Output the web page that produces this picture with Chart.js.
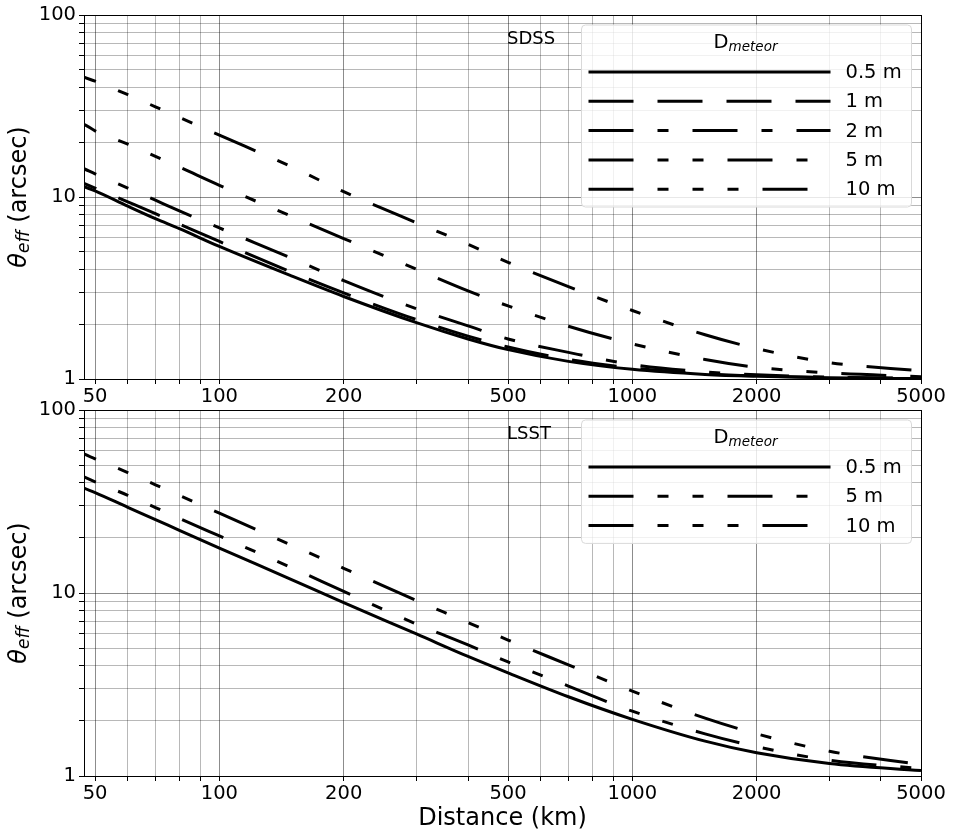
<!DOCTYPE html>
<html>
<head>
<meta charset="utf-8">
<script src="https://cdn.jsdelivr.net/npm/chart.js@4.4.1/dist/chart.umd.min.js"></script>
<style>
  html, body { margin: 0; padding: 0; background: #fff; }
  #wrap { position: relative; width: 953px; height: 836px; }
  canvas { position: absolute; left: 0; }
</style>
</head>
<body>
<div id="wrap">
  <canvas id="sdss" width="953" height="405" style="top:0"></canvas>
  <canvas id="lsst" width="953" height="451" style="top:385px"></canvas>
</div>
<script>
// distances in km (first point sits just left of the axis and gets clipped)
const distance = [40, 47, 50, 60, 70, 80, 100, 150, 200, 300, 400, 500, 700, 1000, 1500, 2000, 3000, 5000];

// SDSS, theta_eff in arcsec
const sdss05 = [13.3, 11.4, 10.8, 8.9, 7.6, 6.7, 5.35, 3.67, 2.84, 2.04, 1.66, 1.45, 1.25, 1.13, 1.06, 1.035, 1.015, 1.005];
const sdss1  = [14.0, 11.9, 11.2, 9.4, 8.1, 7.1, 5.7, 3.85, 2.97, 2.12, 1.72, 1.50, 1.28, 1.15, 1.07, 1.04, 1.017, 1.006];
const sdss2  = [16.8, 14.3, 13.4, 11.2, 9.6, 8.4, 6.76, 4.6, 3.47, 2.43, 1.96, 1.66, 1.40, 1.20, 1.095, 1.055, 1.025, 1.01];
const sdss5  = [28.9, 25.1, 23.1, 19.5, 16.7, 14.6, 11.6, 7.8, 5.91, 4.01, 3.05, 2.52, 1.95, 1.56, 1.28, 1.16, 1.08, 1.03];
const sdss10 = [54.7, 45.5, 43.3, 36.5, 31.3, 27.4, 21.9, 14.6, 10.7, 7.22, 5.5, 4.38, 3.22, 2.38, 1.75, 1.47, 1.23, 1.11];

// LSST
const lsst05 = [44.0, 37.4, 35.4, 29.4, 25.2, 22.0, 17.6, 11.8, 8.85, 5.97, 4.5, 3.66, 2.71, 2.04, 1.55, 1.34, 1.17, 1.07];
const lsst5  = [51.2, 43.1, 40.5, 34.2, 29.3, 25.6, 20.5, 13.7, 10.2, 6.77, 5.2, 4.20, 3.10, 2.26, 1.70, 1.445, 1.22, 1.098];
const lsst10 = [68.2, 57.6, 54.1, 45.5, 39.0, 34.1, 27.3, 18.2, 13.65, 9.1, 6.9, 5.53, 4.05, 2.91, 2.07, 1.70, 1.365, 1.154];

const xLabels = [50, 100, 200, 500, 1000, 2000, 5000];
const yLabels = [1, 10, 100];

// grid positions: 1..9 times each decade
function decadeTicks(lo, hi) {
  const out = [];
  for (let p = 1; p <= 1e4; p *= 10)
    for (let m = 1; m < 10; m++) {
      const v = m * p;
      if (v >= lo && v <= hi) out.push(v);
    }
  return out;
}
const xGrid = decadeTicks(50, 5000);
const yGrid = decadeTicks(1, 100);

const dash = {
  '0.5 m': [],
  '1 m': [45, 24],
  '2 m': [45, 24, 11, 24],
  '5 m': [45, 24, 11, 24, 11, 24],
  '10 m': [45, 24, 11, 24, 11, 24, 11, 24]
};

Chart.defaults.font.family = '"DejaVu Sans"';
Chart.defaults.color = '#000';

function series(label, vals) {
  return {
    label: label,
    data: distance.map((d, i) => ({ x: d, y: vals[i] })),
    borderColor: '#000',
    borderWidth: 3,
    borderDash: dash[label],
    borderCapStyle: 'butt',
    pointRadius: 0,
    fill: false,
    cubicInterpolationMode: 'monotone'
  };
}

function gridColor(labels) {
  return ctx => labels.includes(ctx.tick.value) ? 'rgba(0,0,0,0.45)' : 'rgba(0,0,0,0.28)';
}

const extras = {
  id: 'extras',
  afterDatasetsDraw(chart, args, opts) {
    const ctx = chart.ctx, a = chart.chartArea;
    ctx.save();
    // frame
    ctx.strokeStyle = '#000';
    ctx.lineWidth = 1;
    ctx.strokeRect(a.left + 0.5, a.top + 0.5, a.right - a.left, a.bottom - a.top);

    // survey tag
    ctx.fillStyle = '#000';
    ctx.textAlign = 'left';
    ctx.textBaseline = 'alphabetic';
    ctx.font = '18px "DejaVu Sans"';
    ctx.fillText(opts.tag, 507, a.top + 29);

    // legend
    const sets = chart.data.datasets;
    const bx = a.right - 339.5, bw = 330, by = a.top + 10, bh = 35.5 + 29.3 * sets.length;
    ctx.beginPath();
    ctx.roundRect(bx, by, bw, bh, 4);
    ctx.fillStyle = 'rgba(255,255,255,0.8)';
    ctx.fill();
    ctx.strokeStyle = '#d9d9d9';
    ctx.lineWidth = 1;
    ctx.stroke();

    ctx.fillStyle = '#000';
    ctx.font = '19.5px "DejaVu Sans"';
    const wD = ctx.measureText('D').width;
    ctx.font = 'italic 13.5px "DejaVu Sans"';
    const wM = ctx.measureText('meteor').width;
    const tx = a.right - 175.5 - (wD + wM) / 2, ty = by + 23;
    ctx.font = '19.5px "DejaVu Sans"';
    ctx.fillText('D', tx, ty);
    ctx.font = 'italic 13.5px "DejaVu Sans"';
    ctx.fillText('meteor', tx + wD, ty + 3);

    sets.forEach((s, i) => {
      const y = by + 47 + 29.3 * i;
      ctx.beginPath();
      ctx.setLineDash(s.borderDash);
      ctx.lineWidth = 3;
      ctx.strokeStyle = '#000';
      ctx.moveTo(a.right - 332.5, y);
      ctx.lineTo(a.right - 90.5, y);
      ctx.stroke();
      ctx.setLineDash([]);
      ctx.font = '19.5px "DejaVu Sans"';
      ctx.textBaseline = 'middle';
      ctx.fillText(s.label, a.right - 75.5, y + 1);
      ctx.textBaseline = 'alphabetic';
    });

    // y title: theta_eff (arcsec)
    ctx.save();
    ctx.translate(20, (a.top + a.bottom) / 2);
    ctx.rotate(-Math.PI / 2);
    ctx.textBaseline = 'middle';
    ctx.font = 'italic 24px "DejaVu Sans"';
    const w1 = ctx.measureText('\u03b8').width;
    ctx.font = 'italic 17px "DejaVu Sans"';
    const w2 = ctx.measureText('eff').width;
    ctx.font = '24px "DejaVu Sans"';
    const w3 = ctx.measureText(' (arcsec)').width;
    let x0 = -(w1 + w2 + w3) / 2;
    ctx.font = 'italic 24px "DejaVu Sans"';
    ctx.fillText('\u03b8', x0, 0);
    ctx.font = 'italic 17px "DejaVu Sans"';
    ctx.fillText('eff', x0 + w1, 5);
    ctx.font = '24px "DejaVu Sans"';
    ctx.fillText(' (arcsec)', x0 + w1 + w2, 0);
    ctx.restore();

    if (opts.xTitle) {
      ctx.font = '24px "DejaVu Sans"';
      ctx.textAlign = 'center';
      ctx.fillText('Distance (km)', (a.left + a.right) / 2, chart.height - 11);
    }
    ctx.restore();
  }
};

function makeChart(id, sets, tag, padTop, xHeight, xTitle) {
  return new Chart(document.getElementById(id), {
    type: 'line',
    data: { datasets: sets },
    options: {
      responsive: false,
      animation: false,
      devicePixelRatio: 1,
      layout: { padding: { top: padTop, right: 32, left: 0, bottom: 0 } },
      plugins: {
        legend: { display: false },
        tooltip: { enabled: false },
        extras: { tag: tag, xTitle: xTitle }
      },
      scales: {
        x: {
          type: 'logarithmic',
          min: 47,
          max: 5000,
          afterBuildTicks: s => { s.ticks = xGrid.map(v => ({ value: v })); },
          afterFit: s => { s.height = xHeight; },
          ticks: {
            autoSkip: false,
            maxRotation: 0,
            padding: 1,
            font: { size: 19.5 },
            callback: v => xLabels.includes(v) ? String(v) : ''
          },
          grid: { color: gridColor(xLabels), tickColor: '#000', tickLength: 5, lineWidth: 1 },
          border: { color: '#000' }
        },
        y: {
          type: 'logarithmic',
          min: 1,
          max: 100,
          afterBuildTicks: s => { s.ticks = yGrid.map(v => ({ value: v })); },
          afterFit: s => { s.width = 84; },
          ticks: {
            autoSkip: false,
            padding: 3,
            font: { size: 19.5 },
            callback: v => yLabels.includes(v) ? String(v) : ''
          },
          grid: { color: gridColor(yLabels), tickColor: '#000', tickLength: 5, lineWidth: 1 },
          border: { color: '#000' }
        }
      }
    },
    plugins: [extras]
  });
}

makeChart('sdss', [
  series('0.5 m', sdss05),
  series('1 m', sdss1),
  series('2 m', sdss2),
  series('5 m', sdss5),
  series('10 m', sdss10)
], 'SDSS', 15, 26, false);

makeChart('lsst', [
  series('0.5 m', lsst05),
  series('5 m', lsst5),
  series('10 m', lsst10)
], 'LSST', 25, 60, true);
</script>
</body>
</html>
